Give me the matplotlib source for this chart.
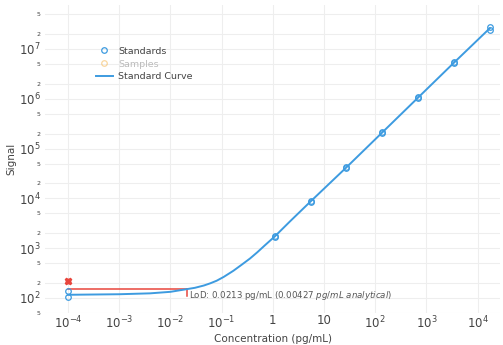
import matplotlib
matplotlib.use("Agg")
import matplotlib.pyplot as plt
from matplotlib.lines import Line2D

# standards (duplicates), 5-fold dilution series plus blanks
std_conc = [1e-4, 1e-4, 1.1, 1.1, 5.5, 5.5, 27.5, 27.5, 137.5, 137.5,
            687.5, 687.5, 3437.5, 3437.5, 17187.5, 17187.5]
std_signal = [136, 103, 1700, 1760, 8500, 8900, 41000, 43000, 205000, 215000,
              1.02e6, 1.08e6, 5.1e6, 5.4e6, 2.4e7, 2.75e7]

# excluded point
out_conc = [1e-4]
out_signal = [222]

# fitted standard curve
curve_conc = [1e-4, 1e-3, 4e-3, 1e-2, 0.0213, 0.03, 0.045, 0.06, 0.08, 0.11,
              0.17, 0.25, 0.36, 0.5, 0.7, 1.1, 2.2, 5.5, 27.5, 137.5, 687.5,
              3437.5, 17187.5]
curve_signal = [116, 119, 124, 133, 151, 160, 178, 197, 222, 265,
                352, 470, 622, 830, 1140, 1730, 3500, 8700, 42000, 210000,
                1.05e6, 5.25e6, 2.57e7]

lod = 0.0213
lod_signal = 151
lod_text = r"LoD: 0.0213 pg/mL ($\it{0.00427\ pg/mL\ analytical}$)"

blue = "#3d9be0"
red = "#e8453c"
orange = "#f5b041"
grid = "#eeeeee"
txt = "#444444"

fig = plt.figure(figsize=(5.03, 3.45), dpi=100)
ax = fig.add_axes([45 / 503, 32 / 345, 455 / 503, 308 / 345])
ax.set_xscale("log")
ax.set_yscale("log")
ax.set_xlim(10 ** -4.449, 10 ** 4.4375)
ax.set_ylim(10 ** 1.70, 10 ** 7.88)

for s in ax.spines.values():
    s.set_visible(False)

# x ticks
xt = [1e-4, 1e-3, 1e-2, 1e-1, 1, 10, 1e2, 1e3, 1e4]
xl = [r"$10^{-4}$", r"$10^{-3}$", r"$10^{-2}$", r"$10^{-1}$", "1", "10",
      r"$10^{2}$", r"$10^{3}$", r"$10^{4}$"]
ax.set_xticks(xt)
ax.set_xticklabels(xl)
ax.set_xticks([], minor=True)

# y ticks: decades plus 2 and 5
yt = [10 ** k for k in range(2, 8)]
ax.set_yticks(yt)
ax.set_yticklabels([r"$10^{%d}$" % k for k in range(2, 8)])
ymin = [50] + [m * 10 ** k for k in range(2, 8) for m in (2, 5)]
ax.set_yticks(ymin, minor=True)
ax.set_yticklabels(["5"] + [str(m) for k in range(2, 8) for m in (2, 5)], minor=True)

ax.tick_params(which="both", length=0, colors=txt)
ax.tick_params(axis="x", which="major", labelsize=8.5, pad=1)
ax.tick_params(axis="y", which="major", labelsize=8.5, pad=3)
ax.tick_params(axis="y", which="minor", labelsize=4.5, pad=3)

ax.grid(True, which="major", color=grid, linewidth=0.8)
ax.grid(True, which="minor", axis="y", color=grid, linewidth=0.8)
ax.set_axisbelow(True)

# curve and points
ax.plot(curve_conc, curve_signal, color=blue, linewidth=1.4, zorder=3)
ax.plot(std_conc, std_signal, linestyle="none", marker="o", markersize=4,
        markerfacecolor="none", markeredgecolor=blue, markeredgewidth=0.9, zorder=4)
ax.plot(out_conc, out_signal, linestyle="none", marker="X", markersize=4.5,
        color=red, zorder=4)

# LoD marker
ax.plot([1e-4, lod], [lod_signal, lod_signal], color=red, linewidth=1.1, zorder=2)
ax.plot([lod, lod], [lod_signal, 110], color=red, linewidth=1.1, zorder=2)
ax.text(lod * 1.07, 112, lod_text, fontsize=6.2, color="#555555",
        ha="left", va="center")

ax.set_xlabel("Concentration (pg/mL)", fontsize=7.5, color=txt, labelpad=2)
ax.set_ylabel("Signal", fontsize=7.5, color=txt, labelpad=2)

handles = [
    Line2D([], [], linestyle="none", marker="o", markersize=4,
           markerfacecolor="none", markeredgecolor=blue, markeredgewidth=0.9),
    Line2D([], [], linestyle="none", marker="o", markersize=4,
           markerfacecolor="none", markeredgecolor=orange, markeredgewidth=0.9, alpha=0.5),
    Line2D([], [], color=blue, linewidth=1.4),
]
leg = ax.legend(handles, ["Standards", "Samples", "Standard Curve"],
                loc="upper left", bbox_to_anchor=(47 / 455, 1 - 38 / 308),
                frameon=False, fontsize=6.8, handlelength=1.8,
                handletextpad=0.6, labelspacing=0.4, borderaxespad=0)
for t, c in zip(leg.get_texts(), [txt, "#bbbbbb", txt]):
    t.set_color(c)

fig.savefig("out.png", dpi=100)
